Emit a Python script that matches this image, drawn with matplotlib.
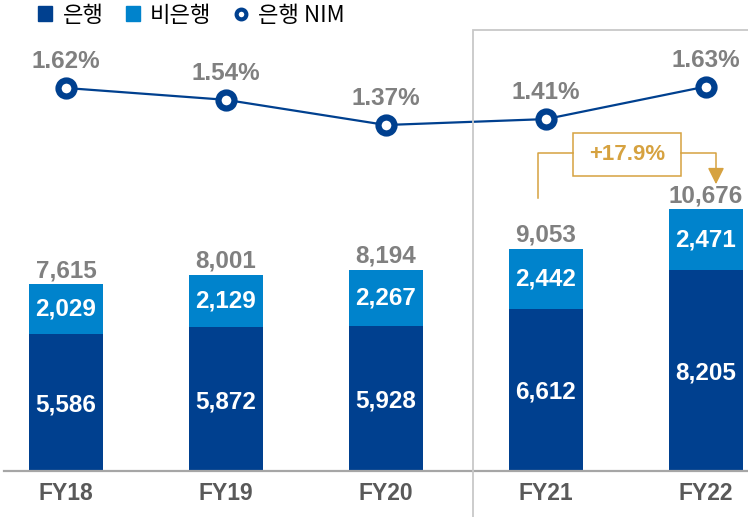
import matplotlib.pyplot as plt
import matplotlib.transforms as mtransforms
from matplotlib.patches import Patch, Rectangle
from matplotlib.lines import Line2D

# 데이터
years = ['FY18', 'FY19', 'FY20', 'FY21', 'FY22']
bank = [5586, 5872, 5928, 6612, 8205]
nonbank = [2029, 2129, 2267, 2442, 2471]
totals = [7615, 8001, 8194, 9053, 10676]
nim = [1.62, 1.54, 1.37, 1.41, 1.63]
growth_label = '+17.9%'

c_dark = '#00408f'
c_light = '#0083cc'
c_gray = '#808080'
c_axis = '#595959'
c_gold = '#d6a240'

plt.rcParams['font.family'] = ['Liberation Sans', 'Noto Sans CJK KR', 'DejaVu Sans']

W, H = 748, 517
fig = plt.figure(figsize=(W / 100, H / 100), dpi=100)
# 축: 가로 4~748px, 세로 0~471px
ax = fig.add_axes([4 / W, 1 - 471 / H, 744 / W, 471 / H])
ax2 = ax.twinx()
ax2.set_position(ax.get_position())

x = list(range(len(years)))

scale = 0.0245  # px per unit
ax.set_ylim(0, 471 / scale)
ax.set_xlim((4 - 66) / 160, (748 - 66) / 160)
ax2.set_ylim(1.62 - (471 - 88) / 148, 1.62 + 88 / 148)
ax2.set_xlim(ax.get_xlim())

bw = 74 / 160
ax.bar(x, bank, width=bw, color=c_dark, zorder=2)
ax.bar(x, nonbank, width=bw, bottom=bank, color=c_light, zorder=2)

for i in x:
    ax.text(i, bank[i] / 2 - 100, f'{bank[i]:,}', ha='center', va='center',
            color='white', fontsize=17.5, fontweight='bold')
    ax.text(i, bank[i] + nonbank[i] / 2, f'{nonbank[i]:,}', ha='center', va='center',
            color='white', fontsize=17.5, fontweight='bold')
    ax.annotate(f'{totals[i]:,}', (i, bank[i] + nonbank[i]), xytext=(0, 10), textcoords='offset points',
                ha='center', va='center', color=c_gray, fontsize=17.5, fontweight='bold')

ax2.plot(x, nim, color=c_dark, lw=1.6, zorder=3)
ax2.plot(x, nim, 'o', ms=11.5, mfc='white', mec=c_dark, mew=4.5, zorder=4)
for i in x:
    ax2.annotate(f'{nim[i]:.2f}%', (i, nim[i]), xytext=(0, 19), textcoords='offset points',
                 ha='center', va='center', color=c_gray, fontsize=17.5, fontweight='bold')

for a in (ax, ax2):
    for s in ['top', 'right', 'left']:
        a.spines[s].set_visible(False)
    a.set_yticks([])
ax2.spines['bottom'].set_visible(False)
ax.spines['bottom'].set_color('#a6a6a6')
ax.spines['bottom'].set_linewidth(1.6)
ax.set_xticks(x)
ax.set_xticklabels(years, fontsize=16.5, fontweight='bold', color=c_axis)
ax.tick_params(axis='x', length=0, pad=8)

# FY21~FY22 강조 박스
fig.add_artist(Rectangle((473 / W, -0.1), 0.5, 1.1 - 30 / H, transform=fig.transFigure,
                         fill=False, edgecolor='#c8c8c8', lw=1.3))

# 성장률 주석
tr = mtransforms.blended_transform_factory(ax.transData, ax.transAxes)
def py(p):
    return 1 - p / 471
def px(p):
    return (p - 66) / 160
ax.plot([px(538), px(538), px(573)], [py(198), py(153), py(153)], color=c_gold, lw=1.1,
        transform=tr, clip_on=False)
ax.plot([px(681), px(716), px(716)], [py(153), py(153), py(172)], color=c_gold, lw=1.1,
        transform=tr, clip_on=False)
ax.annotate('', xy=(px(716), py(187)), xytext=(px(716), py(166)), xycoords=tr, textcoords=tr,
            arrowprops=dict(arrowstyle='-|>,head_length=1.0,head_width=0.5', color=c_gold, lw=1.1))
ax.add_patch(Rectangle((px(573), py(176)), px(681) - px(573), py(133) - py(176), transform=tr,
                       fill=True, facecolor='white', edgecolor=c_gold, lw=1.1, clip_on=False))
ax.text((px(573) + px(681)) / 2, py(155), growth_label, transform=tr, ha='center', va='center',
        color=c_gold, fontsize=16, fontweight='bold')

# 범례
handles = [Patch(color=c_dark), Patch(color=c_light),
           Line2D([], [], marker='o', ls='none', ms=7, mfc='white', mec=c_dark, mew=3)]
fig.legend(handles, ['은행', '비은행', '은행 NIM'], loc='center left',
           bbox_to_anchor=(38 / W, 1 - 15 / H), borderaxespad=0, borderpad=0,
           ncol=3, frameon=False, handlelength=0.65, handleheight=0.65,
           handletextpad=0.45, columnspacing=1.0,
           prop={'family': ['Noto Sans CJK KR'], 'size': 16})

fig.savefig('out.png', dpi=100)
